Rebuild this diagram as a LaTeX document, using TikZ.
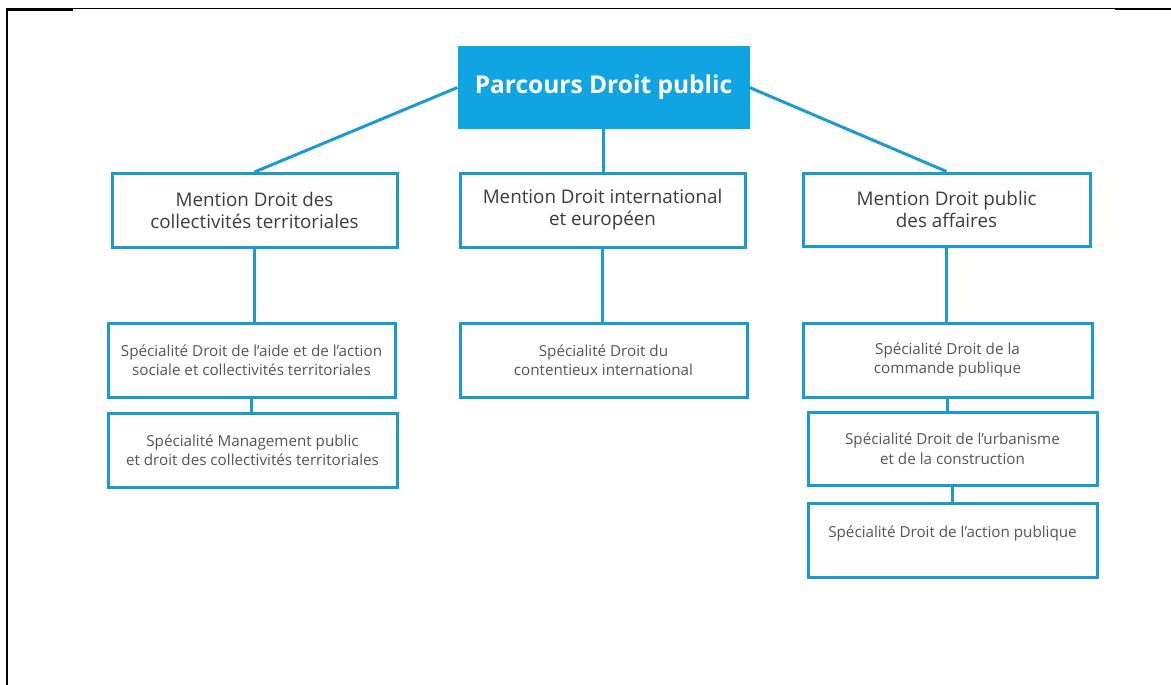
\documentclass[tikz,border=0pt]{standalone}
\usepackage{fontspec}
\setmainfont{Open Sans}
\definecolor{topfill}{RGB}{16,164,226}
\definecolor{boxline}{RGB}{27,155,210}
\definecolor{txtdark}{RGB}{60,60,60}
\definecolor{txtgray}{RGB}{85,85,85}
\tikzset{
  topbox/.style={draw=topfill, fill=topfill, line width=1pt, minimum width=291pt, minimum height=81pt, inner sep=0pt, text=white, font=\fontsize{24.5}{28}\selectfont\bfseries},
  mentionbox/.style={draw=boxline, fill=white, line width=3pt, minimum width=285pt, minimum height=74pt, inner sep=0pt, text=txtdark, align=center, font=\fontsize{18.8}{22}\selectfont},
  specbox/.style={draw=boxline, fill=white, line width=3pt, minimum width=287pt, minimum height=74pt, inner sep=0pt, text=txtgray, align=center, font=\fontsize{15.2}{19.5}\selectfont},
  link/.style={draw=boxline, line width=3pt},
  frameline/.style={draw=black}
}
\begin{document}
\begin{tikzpicture}[x=1pt,y=-1pt]
\useasboundingbox (0,0) rectangle (1171,685);
% page frame
\draw[frameline, line width=2.5pt] (7,9) -- (7,685);
\draw[frameline, line width=3pt] (5.75,9.5) -- (73,9.5);
\draw[frameline, line width=1.3pt] (73,8.5) -- (1115,8.5);
\draw[frameline, line width=2.5pt] (1115,9) -- (1171,9);
% nodes
\node[topbox] (top) at (603.5,87.5) {Parcours Droit public};
\node[mentionbox] (ml) at (254.5,210.5) {Mention Droit des\\collectivités territoriales};
\node[mentionbox] (mm) at (602.5,210) {Mention Droit international\\et européen};
\node[mentionbox, minimum width=287pt, minimum height=73pt] (mr) at (946.5,209.5) {Mention Droit public\\des affaires};
\node[specbox] (l1) at (251.5,360) {Spécialité Droit de l’aide et de l’action\\sociale et collectivités territoriales};
\node[specbox, minimum width=289pt] (l2) at (252.5,450) {Spécialité Management public\\et droit des collectivités territoriales};
\node[specbox] (m1) at (603.5,360) {Spécialité Droit du\\contentieux international};
\node[specbox, minimum width=289pt] (r1) at (947.5,360) {Spécialité Droit de la\\commande publique};
\node[specbox, minimum width=289pt, minimum height=73pt] (r2) at (952.5,448.5) {Spécialité Droit de l’urbanisme\\et de la construction};
\node[specbox, minimum width=289pt, text depth=16pt] (r3) at (952.5,540) {Spécialité Droit de l’action publique};
% connectors
\draw[link] (top.west) -- (ml.north);
\draw[link] (top.east) -- (mr.north);
\draw[link] (top.south) -- (top.south |- mm.north);
\draw[link] (ml.south) -- (ml.south |- l1.north);
\draw[link] (l1.south) -- (l1.south |- l2.north);
\draw[link] (mm.south) -- (mm.south |- m1.north);
\draw[link] (mr.south) -- (mr.south |- r1.north);
\draw[link] (r1.south) -- (r1.south |- r2.north);
\draw[link] (r2.south) -- (r2.south |- r3.north);
\end{tikzpicture}
\end{document}
